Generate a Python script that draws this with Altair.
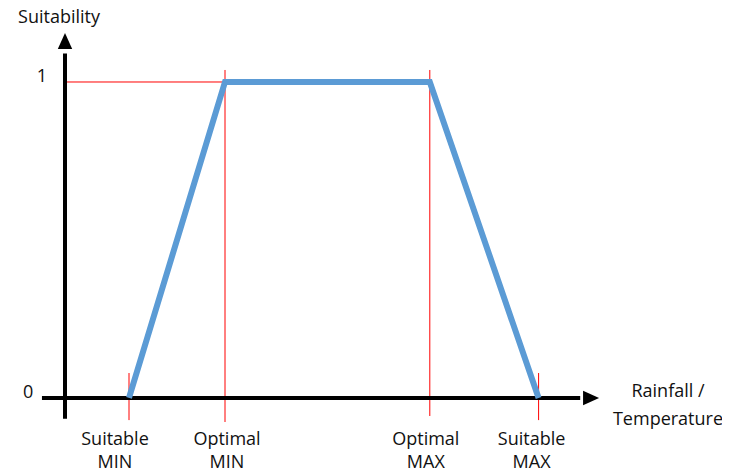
import altair as alt
import pandas as pd

# ---- data ----
threshold_names = ["Suitable\nMIN", "Optimal\nMIN", "Optimal\nMAX", "Suitable\nMAX"]
threshold_x = [2.0, 5.0, 11.4, 14.8]
suitability = [0, 1, 1, 0]
y_tick_values = [0, 1]
y_tick_labels = ["0", "1"]

# ---- styling ----
FONT = "Open Sans"
BLUE = "#5B9BD5"
RED = "#FF0000"
TXT = "#111111"
PAD_TOP = 10
W, H = 714, 459 - PAD_TOP
X = alt.Scale(domain=[-1.78125, 20.53125], nice=False, zero=False)
Y = alt.Scale(domain=[-0.2184, 1.2025], nice=False, zero=False)

curve = pd.DataFrame({"x": threshold_x, "s": suitability, "i": range(len(threshold_x))})

ref = pd.DataFrame({
    "x": threshold_x,
    "lo": [-0.07, -0.076, -0.057, -0.07],
    "hi": [0.079 if s == 0 else 1.038 for s in suitability],
    "name": threshold_names,
})
label_dx = [-14, 2, -4, -7]

xe = lambda f: alt.X(f, type="quantitative", scale=X, axis=None)
ye = lambda f: alt.Y(f, type="quantitative", scale=Y, axis=None)
one = pd.DataFrame({"a": [0]})

red_h = alt.Chart(one).mark_rule(color=RED, strokeWidth=1).encode(
    x=alt.datum(0, scale=X, axis=None), x2=alt.datum(threshold_x[1]),
    y=alt.datum(1, scale=Y, axis=None))

red_v = alt.Chart(ref).mark_rule(color=RED, strokeWidth=1).encode(
    x=xe("x"), y=ye("lo"), y2="hi")

y_axis = alt.Chart(one).mark_rule(color="black", strokeWidth=4).encode(
    x=alt.datum(0, scale=X, axis=None), y=alt.datum(-0.066, scale=Y, axis=None), y2=alt.datum(1.09))
x_axis = alt.Chart(one).mark_rule(color="black", strokeWidth=4).encode(
    y=alt.datum(0, scale=Y, axis=None), x=alt.datum(-0.72, scale=X, axis=None), x2=alt.datum(16.1))

arrow_up = alt.Chart(one).mark_point(
    shape="M0,-1 L0.9,1 L-0.9,1 Z", filled=True, color="black", opacity=1, size=256, strokeWidth=0
).encode(x=alt.datum(0, scale=X, axis=None), y=alt.datum(1.13, scale=Y, axis=None))
arrow_right = alt.Chart(one).mark_point(
    shape="M1,0 L-1,0.9 L-1,-0.9 Z", filled=True, color="black", opacity=1, size=256, strokeWidth=0
).encode(x=alt.datum(16.44, scale=X, axis=None), y=alt.datum(0, scale=Y, axis=None))

line = alt.Chart(curve).mark_line(color=BLUE, strokeWidth=6, strokeJoin="miter", strokeCap="butt").encode(
    x=xe("x"), y=ye("s"), order="i:Q")

label_layers = []
for n, xv, dx in zip(threshold_names, threshold_x, label_dx):
    label_layers.append(
        alt.Chart(pd.DataFrame({"x": [xv], "t": [n]})).mark_text(
            font=FONT, fontSize=18, lineBreak="\n", baseline="middle", align="center",
            dx=dx, dy=42, lineHeight=23, color=TXT
        ).encode(x=xe("x"), y=alt.datum(0, scale=Y, axis=None), text="t:N")
    )

ticks = pd.DataFrame({"v": y_tick_values, "t": y_tick_labels, "px": [-1.15, -0.72]})
tick_text = alt.Chart(ticks).mark_text(font=FONT, fontSize=18, align="center", baseline="middle",
                                       color=TXT, dy=-5).encode(
    x=xe("px"), y=ye("v"), text="t:N")

top = 8 + PAD_TOP
title_y = alt.Chart(one).mark_text(
    text="Suitability", font=FONT, fontSize=18, align="center", baseline="middle", color=TXT
).encode(x=alt.value(59 - 8), y=alt.value(18 - top))
title_x = alt.Chart(one).mark_text(
    text=["Rainfall /", "Temperature"], font=FONT, fontSize=18, align="center", baseline="middle",
    lineHeight=28, color=TXT
).encode(x=alt.value(668 - 8), y=alt.value(392 - top))

chart = alt.layer(
    red_h, red_v, y_axis, x_axis, arrow_up, arrow_right, line, *label_layers, tick_text, title_y, title_x
).properties(
    width=W, height=H, padding={"top": PAD_TOP, "left": 0, "right": 0, "bottom": 14},
    autosize=alt.AutoSizeParams(type="none")
).configure_view(stroke=None)

chart.save("out.html", embed_options={"renderer": "svg", "actions": False})
